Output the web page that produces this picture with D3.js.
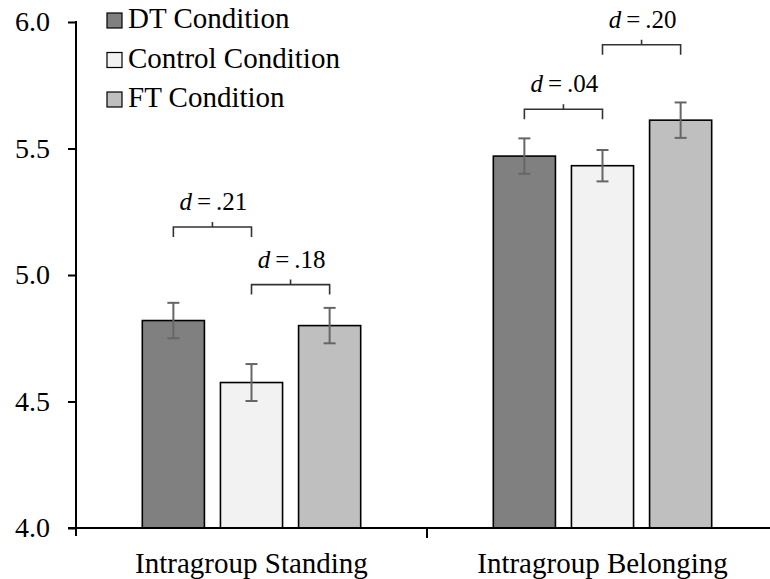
<!DOCTYPE html>
<html><head><meta charset="utf-8">
<script src="https://cdn.jsdelivr.net/npm/d3@7"></script>
</head><body style="margin:0">
<svg id="c" width="770" height="579"></svg>
<script>
const categories = ["Intragroup Standing", "Intragroup Belonging"];
const conditions = ["DT Condition", "Control Condition", "FT Condition"];
const dtValues = [4.82, 5.47];
const controlValues = [4.575, 5.432];
const ftValues = [4.80, 5.612];
const dtErrors = [0.07, 0.07];
const controlErrors = [0.073, 0.062];
const ftErrors = [0.07, 0.07];
const yTicks = [4.0, 4.5, 5.0, 5.5, 6.0];
// effect-size brackets: category, from condition, to condition, label, bracket level
const bracketCats = [0, 0, 1, 1];
const bracketFrom = [0, 1, 0, 1];
const bracketTo = [1, 2, 1, 2];
const bracketLabels = [".21", ".18", ".04", ".20"];
const bracketLevels = [5.19, 4.962, 5.655, 5.91];
const colors = ["#808080", "#f2f2f2", "#bfbfbf"];

const FONT = "Liberation Serif";
const svg = d3.select("#c");
const mLeft = 76, mRight = 778, mTop = 22, mBottom = 528;
const y = d3.scaleLinear().domain([4, 6]).range([mBottom, mTop]);
const x0 = d3.scaleBand().domain(categories).range([mLeft, mRight]).paddingInner(0).paddingOuter(0);
const x1 = d3.scaleBand().domain(conditions).range([-117, 117]).paddingInner(0.205).paddingOuter(0.1);

const series = [dtValues, controlValues, ftValues];
const errs = [dtErrors, controlErrors, ftErrors];
const data = [];
categories.forEach((c, i) => conditions.forEach((k, j) => data.push({c, k, j, v: series[j][i], e: errs[j][i]})));

const cx = (ci, kj) => x0(categories[ci]) + x0.bandwidth() / 2 + x1(conditions[kj]) + x1.bandwidth() / 2;

// bars
svg.append("g").selectAll("rect").data(data).join("rect")
  .attr("x", d => x0(d.c) + x0.bandwidth() / 2 + x1(d.k))
  .attr("y", d => y(d.v))
  .attr("width", x1.bandwidth())
  .attr("height", d => y(4) - y(d.v))
  .attr("fill", d => colors[d.j])
  .attr("stroke", "#000").attr("stroke-width", 1.6);

// error bars
const eg = svg.append("g").attr("stroke", "#666").attr("stroke-width", 2).attr("fill", "none");
data.forEach(d => {
  const xc = x0(d.c) + x0.bandwidth() / 2 + x1(d.k) + x1.bandwidth() / 2;
  eg.append("line").attr("x1", xc).attr("x2", xc).attr("y1", y(d.v + d.e)).attr("y2", y(d.v - d.e));
  eg.append("line").attr("x1", xc - 6).attr("x2", xc + 6).attr("y1", y(d.v + d.e)).attr("y2", y(d.v + d.e));
  eg.append("line").attr("x1", xc - 6).attr("x2", xc + 6).attr("y1", y(d.v - d.e)).attr("y2", y(d.v - d.e));
});

// y axis (ticks drawn by d3 axis, labels as plain svg text)
const yAxis = d3.axisLeft(y).tickValues(yTicks).tickFormat("").tickSize(8);
const ya = svg.append("g").attr("transform", `translate(${mLeft},0)`).call(yAxis);
ya.select(".domain").remove();
ya.selectAll(".tick line").attr("stroke", "#000").attr("stroke-width", 2);
yTicks.forEach(t => {
  svg.append("text").attr("x", mLeft - 26).attr("y", y(t) + 9).attr("text-anchor", "end")
    .attr("font-family", FONT).attr("font-size", 28).text(d3.format(".1f")(t));
});
svg.append("line").attr("x1", mLeft).attr("x2", mLeft).attr("y1", mTop - 1).attr("y2", mBottom + 8).attr("stroke", "#000").attr("stroke-width", 2);

// x axis
svg.append("line").attr("x1", mLeft - 8).attr("x2", 770).attr("y1", mBottom).attr("y2", mBottom).attr("stroke", "#000").attr("stroke-width", 2);
categories.forEach(c => {
  svg.append("text").attr("x", x0(c) + x0.bandwidth() / 2).attr("y", mBottom + 45).attr("text-anchor", "middle")
    .attr("font-family", FONT).attr("font-size", 29).text(c);
});
svg.append("line").attr("x1", x0(categories[1])).attr("x2", x0(categories[1])).attr("y1", mBottom).attr("y2", mBottom + 10).attr("stroke", "#000").attr("stroke-width", 2);

// brackets
bracketLabels.forEach((lab, i) => {
  const xa_ = cx(bracketCats[i], bracketFrom[i]), xb_ = cx(bracketCats[i], bracketTo[i]);
  const yl = y(bracketLevels[i]);
  svg.append("path").attr("d", `M${xa_},${yl + 10}V${yl}H${xb_}V${yl + 10}M${(xa_ + xb_) / 2},${yl}V${yl - 5}`)
    .attr("fill", "none").attr("stroke", "#333").attr("stroke-width", 1.6);
  const t = svg.append("text").attr("x", (xa_ + xb_) / 2 + 1).attr("y", yl - 17).attr("text-anchor", "middle")
    .attr("font-family", FONT).attr("font-size", 25);
  t.append("tspan").attr("font-style", "italic").text("d");
  t.append("tspan").text("\u2009=\u2009" + lab);
});

// legend
conditions.forEach((k, j) => {
  const base = 28 + j * 39.5;
  svg.append("rect").attr("x", 107).attr("y", base - 15).attr("width", 15).attr("height", 15)
    .attr("fill", colors[j]).attr("stroke", "#000").attr("stroke-width", 1.2);
  svg.append("text").attr("x", 128).attr("y", base).attr("font-family", FONT).attr("font-size", 29).text(k);
});
</script>
</body></html>
